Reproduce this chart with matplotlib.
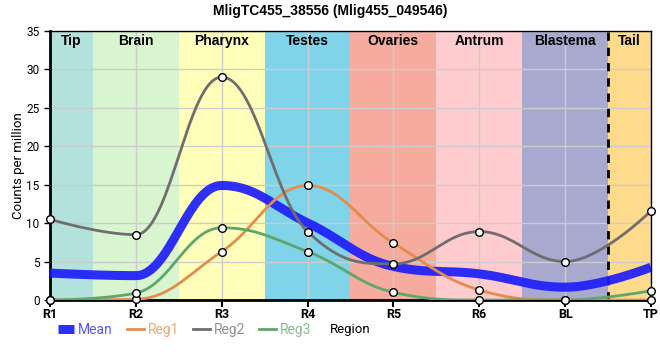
import numpy as np
import matplotlib
matplotlib.use("Agg")
import matplotlib.pyplot as plt

# data
regions = ["R1", "R2", "R3", "R4", "R5", "R6", "BL", "TP"]
reg1 = [0.0, 0.1, 6.3, 14.9, 7.4, 1.3, 0.0, 0.0]
reg2 = [10.5, 8.5, 29.0, 8.9, 4.7, 8.9, 5.0, 11.6]
reg3 = [0.0, 0.9, 9.4, 6.3, 1.0, 0.0, 0.0, 1.2]
mean = list(np.mean([reg1, reg2, reg3], axis=0))

band_names = ["Tip", "Brain", "Pharynx", "Testes", "Ovaries", "Antrum", "Blastema", "Tail"]
band_colors = ["#b3e2dd", "#d9f5d0", "#ffffb9", "#7fd4ea", "#f5ab9e", "#feccce", "#a9a9cf", "#fedb8c"]


def spline(y, n=60):
    # highcharts-style spline: bezier control points, clamped against overshoot
    y = [float(v) for v in y]
    x = list(range(len(y)))
    sm = 1.5
    den = sm + 1
    left = [None] * len(y)
    right = [None] * len(y)
    for i in range(1, len(y) - 1):
        lx = (sm * x[i] + x[i - 1]) / den
        ly = (sm * y[i] + y[i - 1]) / den
        rx = (sm * x[i] + x[i + 1]) / den
        ry = (sm * y[i] + y[i + 1]) / den
        corr = (ry - ly) * (rx - x[i]) / (rx - lx) + y[i] - ry
        ly += corr
        ry += corr
        if ly > y[i - 1] and ly > y[i]:
            ly = max(y[i - 1], y[i])
            ry = 2 * y[i] - ly
        elif ly < y[i - 1] and ly < y[i]:
            ly = min(y[i - 1], y[i])
            ry = 2 * y[i] - ly
        if ry > y[i + 1] and ry > y[i]:
            ry = max(y[i + 1], y[i])
            ly = 2 * y[i] - ry
        elif ry < y[i + 1] and ry < y[i]:
            ry = min(y[i + 1], y[i])
            ly = 2 * y[i] - ry
        left[i] = (lx, ly)
        right[i] = (rx, ry)
    xs, ys = [], []
    t = np.linspace(0, 1, n)
    for i in range(len(y) - 1):
        p0 = (x[i], y[i])
        p1 = right[i] if right[i] else p0
        p3 = (x[i + 1], y[i + 1])
        p2 = left[i + 1] if left[i + 1] else p3
        bx = (1 - t)**3 * p0[0] + 3 * (1 - t)**2 * t * p1[0] + 3 * (1 - t) * t**2 * p2[0] + t**3 * p3[0]
        by = (1 - t)**3 * p0[1] + 3 * (1 - t)**2 * t * p1[1] + 3 * (1 - t) * t**2 * p2[1] + t**3 * p3[1]
        xs.extend(bx)
        ys.extend(by)
    return xs, ys


fig = plt.figure(figsize=(6.6, 3.6), dpi=100)
ax = fig.add_axes([50 / 660, 60 / 360, 601 / 660, 269 / 360])

edges = [0, 0.5, 1.5, 2.5, 3.5, 4.5, 5.5, 6.5, 7]
for i in range(len(band_names)):
    ax.axvspan(edges[i], edges[i + 1], color=band_colors[i], lw=0, zorder=0)
    ax.text((edges[i] + edges[i + 1]) / 2, 33.7, band_names[i], ha="center", va="center",
            fontsize=10, fontweight="bold", family="Liberation Sans", zorder=2)
ax.axvline(6.5, color="black", lw=2, ls=(0, (3, 2.5)), zorder=3)

ax.grid(True, color="#cccccc", lw=1, zorder=1)
ax.set_axisbelow(True)

colors = {"Reg1": "#e38c4d", "Reg2": "#6e6e6e", "Reg3": "#5ea66b"}
xs, ys = spline(mean)
ax.plot(xs, ys, color="#1d1dfb", lw=6.5, alpha=0.92, solid_capstyle="butt", label="Mean", zorder=4)
for name, vals in [("Reg1", reg1), ("Reg2", reg2), ("Reg3", reg3)]:
    xs, ys = spline(vals)
    ax.plot(xs, ys, color=colors[name], lw=2, label=name, zorder=5)
for vals in [reg1, reg2, reg3]:
    ax.plot(range(len(vals)), vals, "o", ms=5.5, mfc="white", mec="black", mew=1,
            zorder=6, clip_on=False)

ax.set_xlim(0, 7)
ax.set_ylim(0, 35)
ax.set_xticks(range(len(regions)))
ax.set_xticklabels(regions, fontsize=9, fontweight="bold", family="Roboto")
ax.set_yticks(range(0, 36, 5))
ax.tick_params(axis="y", labelsize=8.5, length=4, width=1)
ax.tick_params(axis="x", length=5, width=1.5, pad=1)
for lab in ax.get_yticklabels():
    lab.set_family("Roboto")
ax.set_ylabel("Counts per million", fontsize=9.5, family="Roboto", labelpad=1)

for s in ["left", "bottom"]:
    ax.spines[s].set_linewidth(2)
for s in ["top", "right"]:
    ax.spines[s].set_linewidth(1)

fig.suptitle("MligTC455_38556 (Mlig455_049546)", x=0.5, y=0.99, fontsize=10,
             fontweight="bold", family="Liberation Sans")

leg = fig.legend(loc="center left", bbox_to_anchor=(45 / 660, 1 - 330 / 360), ncol=4,
                 frameon=False, handlelength=1.2, handletextpad=0.3,
                 columnspacing=1.0, labelcolor="linecolor", prop={"family": "Roboto", "size": 10})
for t in leg.get_texts():
    t.set_alpha(0.75)
fig.text(330 / 660, 1 - 329 / 360, "Region", fontsize=9.5, family="Roboto", va="center")

fig.savefig("out.png", dpi=100)
